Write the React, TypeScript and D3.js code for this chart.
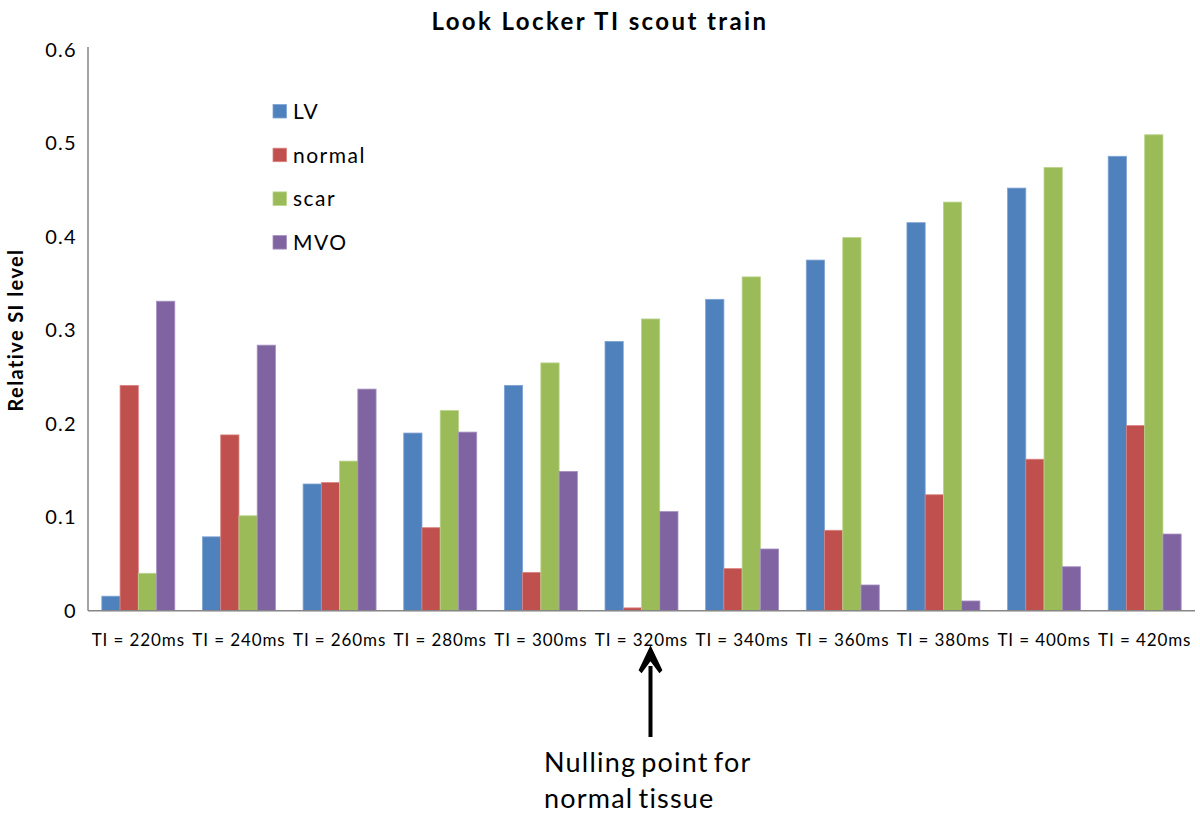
import React from "react";
import * as d3 from "d3";

const categories = ["TI = 220ms", "TI = 240ms", "TI = 260ms", "TI = 280ms", "TI = 300ms", "TI = 320ms", "TI = 340ms", "TI = 360ms", "TI = 380ms", "TI = 400ms", "TI = 420ms"];
const seriesNames = ["LV", "normal", "scar", "MVO"];
const lvValues = [0.0155, 0.079, 0.1355, 0.19, 0.241, 0.288, 0.333, 0.375, 0.415, 0.452, 0.486];
const normalValues = [0.241, 0.188, 0.137, 0.0888, 0.041, 0.003, 0.045, 0.086, 0.124, 0.162, 0.198];
const scarValues = [0.04, 0.1015, 0.16, 0.214, 0.265, 0.312, 0.357, 0.399, 0.437, 0.474, 0.509];
const mvoValues = [0.331, 0.284, 0.237, 0.191, 0.149, 0.106, 0.066, 0.0275, 0.0104, 0.047, 0.082];
const yTicks = [0, 0.1, 0.2, 0.3, 0.4, 0.5, 0.6];
const colors = ["#4F81BD", "#C0504D", "#9BBB59", "#8064A2"];
const strokes = ["#7FA3D3", "#D98280", "#B9D38A", "#A690C0"];

const W = 1200;
const H = 814;
const left = 88;
const right = 1195;
const top = 49.7;
const bottom = 610.7;

export default function App() {
  const series = [lvValues, normalValues, scarValues, mvoValues];
  const x0 = d3.scaleBand<string>().domain(categories).range([left, right]).paddingInner(0.275).paddingOuter(0.1375);
  const x1 = d3.scaleBand<string>().domain(seriesNames).range([0, x0.bandwidth()]);
  const y = d3.scaleLinear().domain([0, 0.6]).range([bottom, top]);
  const font = "Lato, 'Open Sans', sans-serif";
  const fmt = (v: number) => (v === 0 ? "0" : d3.format(".1f")(v));
  const arrowX = (x0("TI = 320ms") ?? 0) + x0.bandwidth() / 2 + 9;

  return (
    <svg width={W} height={H} style={{ position: "absolute", left: 0, top: 0, background: "#fff" }}>
      <rect x={0} y={0} width={W} height={H} fill="#fff" />
      <text x={600} y={30} textAnchor="middle" fontFamily={font} fontWeight="bold" fontSize={24} letterSpacing={2.4} fill="#000">
        Look Locker TI scout train
      </text>
      <text transform={`translate(23,${330}) rotate(-90)`} textAnchor="middle" fontFamily={font} fontWeight="bold" fontSize={20} letterSpacing={1.4} fill="#000">
        Relative SI level
      </text>
      {yTicks.map((t) => (
        <text key={t} x={77} y={y(t)} dy="0.35em" textAnchor="end" fontFamily={font} fontSize={20} letterSpacing={1.3} fill="#000">
          {fmt(t)}
        </text>
      ))}
      {categories.map((c, i) => (
        <g key={c}>
          {series.map((vals, s) => {
            const bx = (x0(c) ?? 0) + (x1(seriesNames[s]) ?? 0);
            return (
              <rect
                key={s}
                x={bx}
                y={y(vals[i])}
                width={x1.bandwidth()}
                height={y(0) - y(vals[i])}
                fill={colors[s]}
                stroke={strokes[s]}
                strokeWidth={0.8}
              />
            );
          })}
          <text x={(x0(c) ?? 0) + x0.bandwidth() / 2} y={646} textAnchor="middle" fontFamily={font} fontSize={17} letterSpacing={0.9} fill="#000">
            {c}
          </text>
        </g>
      ))}
      <line x1={left} x2={left} y1={47} y2={bottom} stroke="#868686" strokeWidth={1.5} />
      <line x1={left} x2={right} y1={bottom} y2={bottom} stroke="#868686" strokeWidth={1.5} />
      {seriesNames.map((n, s) => (
        <g key={n} transform={`translate(273,${104.5 + s * 43.7})`}>
          <rect x={0} y={0} width={13.5} height={13.5} fill={colors[s]} stroke={strokes[s]} strokeWidth={0.8} />
          <text x={20} y={7} dy="0.35em" fontFamily={font} fontSize={21} letterSpacing={1.5} fill="#000">
            {n}
          </text>
        </g>
      ))}
      <line x1={arrowX} x2={arrowX} y1={666} y2={737} stroke="#000" strokeWidth={4} />
      <path d={`M${arrowX},647 L${arrowX - 11},670 L${arrowX - 9},672 L${arrowX},660 L${arrowX + 9},672 L${arrowX + 11},670 Z`} fill="#000" stroke="#000" strokeWidth={1.5} strokeLinejoin="miter" />
      <text x={544} y={772} fontFamily={font} fontSize={27} letterSpacing={1.2} wordSpacing={-3} fill="#000">
        Nulling point for
      </text>
      <text x={544} y={808} fontFamily={font} fontSize={27} letterSpacing={1.2} wordSpacing={-3} fill="#000">
        normal tissue
      </text>
    </svg>
  );
}
